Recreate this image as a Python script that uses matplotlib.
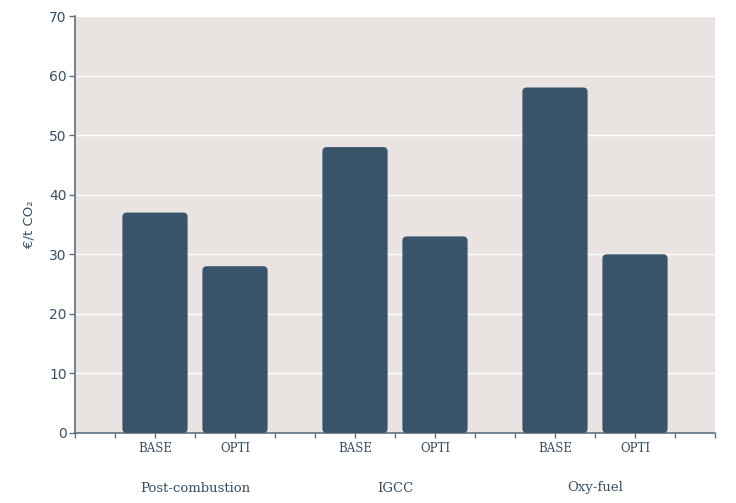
import matplotlib
matplotlib.use("Agg")
import matplotlib.pyplot as plt
from matplotlib.patches import FancyBboxPatch
import matplotlib.transforms as mtransforms

groups = ["Post-combustion", "IGCC", "Oxy-fuel"]
variants = ["BASE", "OPTI"]
values = [37, 28, 48, 33, 58, 30]
positions = [2, 4, 7, 9, 12, 14]
group_centers = [3, 8, 13]
yticks = [0, 10, 20, 30, 40, 50, 60, 70]

bar_color = "#3a556a"
bg = "#e9e4e1"
text_color = "#3b4f63"
spine_color = "#5f6f80"

fig = plt.figure(figsize=(7.36, 5.03), dpi=100)
ax = fig.add_axes([75/736, 70/503, 640/736, 417/503])
ax.set_facecolor(bg)
ax.set_xlim(0, 16)
ax.set_ylim(0, 70)

bars = ax.bar(positions, values, width=1.63, color=bar_color)
x_px_per_unit = 640 / 16
y_px_per_unit = 417 / 70
aspect = x_px_per_unit / y_px_per_unit
for b in bars:
    x, y = b.get_x(), b.get_y()
    w, h = b.get_width(), b.get_height()
    b.set_visible(False)
    p = FancyBboxPatch((x, y), w, h,
                       boxstyle="round,pad=0,rounding_size=0.11",
                       mutation_aspect=aspect,
                       facecolor=bar_color, edgecolor="none", zorder=3)
    ax.add_patch(p)

ax.set_yticks(yticks)
ax.yaxis.grid(True, color="white", linewidth=1.0)
ax.set_axisbelow(True)
ax.set_xticks(range(0, 17))
ax.set_xticklabels([])
ax.tick_params(axis="x", length=3.5, color=spine_color, width=1)
ax.tick_params(axis="y", length=4, color=spine_color, width=1,
               labelcolor=text_color, labelsize=10, pad=2)
for lab in ax.get_yticklabels():
    lab.set_family("DejaVu Sans")

for s in ["top", "right"]:
    ax.spines[s].set_visible(False)
for s in ["left", "bottom"]:
    ax.spines[s].set_color(spine_color)
    ax.spines[s].set_linewidth(1.2)

trans = mtransforms.blended_transform_factory(ax.transData, fig.transFigure)
for i, pos in enumerate(positions):
    ax.text(pos, 1 - 448/503, variants[i % 2], transform=trans, ha="center",
            va="center", fontsize=8.5, family="DejaVu Serif", color=text_color)
for g, c in zip(groups, group_centers):
    ax.text(c, 1 - 488/503, g, transform=trans, ha="center", va="center",
            fontsize=9.5, family="DejaVu Serif", color=text_color)

ax.set_ylabel("€/t CO₂", color=text_color, fontsize=9.5, labelpad=10)

fig.savefig("out.png", dpi=100)
